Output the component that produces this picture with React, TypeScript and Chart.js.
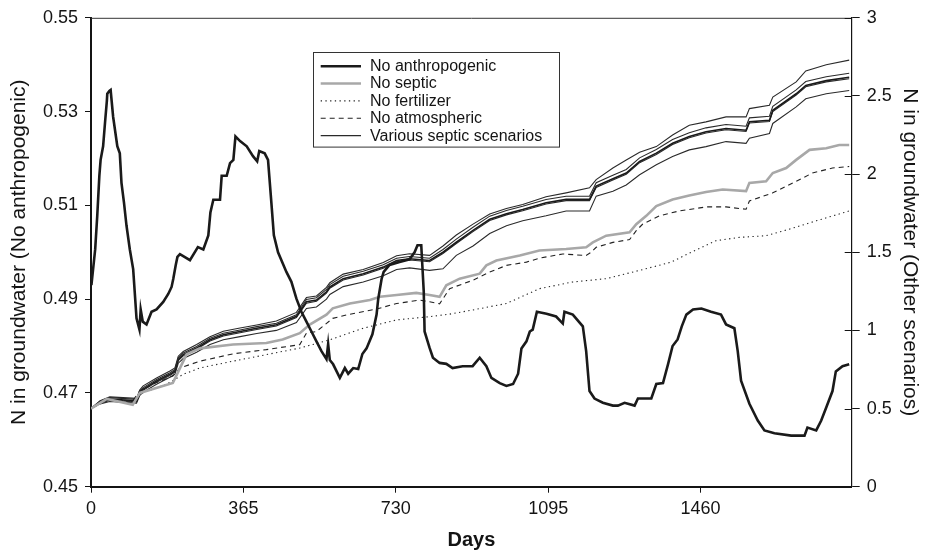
import React, { useEffect, useRef } from 'react';
import { Chart, registerables } from 'chart.js';

Chart.register(...registerables);

// ---------- tick labels ----------
const xTickValues = [0, 365, 730, 1095, 1460];
const leftTickValues = [0.45, 0.47, 0.49, 0.51, 0.53, 0.55];
const rightTickValues = [0, 0.5, 1, 1.5, 2, 2.5, 3];

const legendLabels = ['No anthropogenic', 'No septic', 'No fertilizer', 'No atmospheric', 'Various septic scenarios'];

// ---------- No anthropogenic (left axis) ----------
const anthroDays = [1, 10, 15, 20, 23, 29, 34, 38, 39, 44, 47, 53, 63, 69, 73, 79, 85, 93, 101, 109, 116, 119, 124, 133, 145, 157, 173, 185, 193, 197, 203, 207, 213, 237, 256, 269, 281, 286, 293, 309, 313, 325, 333, 341, 346, 357, 373, 388, 398, 403, 416, 424, 432, 438, 448, 468, 480, 492, 504, 516, 528, 540, 552, 564, 568, 572, 580, 596, 608, 616, 628, 640, 650, 660, 674, 684, 688, 696, 701, 715, 739, 763, 775, 782, 791, 797, 799, 811, 819, 835, 851, 866, 890, 914, 931, 947, 959, 979, 995, 1011, 1023, 1031, 1043, 1051, 1058, 1068, 1091, 1114, 1130, 1134, 1154, 1178, 1186, 1194, 1206, 1226, 1250, 1262, 1278, 1302, 1310, 1342, 1354, 1370, 1382, 1393, 1405, 1415, 1426, 1442, 1462, 1485, 1509, 1521, 1541, 1549, 1557, 1577, 1597, 1613, 1637, 1677, 1709, 1716, 1737, 1749, 1761, 1776, 1784, 1800, 1816];
const anthroValues = [0.4930, 0.5006, 0.5078, 0.5163, 0.5197, 0.5226, 0.5281, 0.5323, 0.5338, 0.5344, 0.5346, 0.5289, 0.5226, 0.5211, 0.5148, 0.5106, 0.5057, 0.5006, 0.4964, 0.4859, 0.4835, 0.4878, 0.4852, 0.4846, 0.4873, 0.4878, 0.4894, 0.4911, 0.4926, 0.4943, 0.4973, 0.4990, 0.4996, 0.4983, 0.5011, 0.5006, 0.5036, 0.5085, 0.5112, 0.5112, 0.5163, 0.5163, 0.5190, 0.5197, 0.5247, 0.5237, 0.5226, 0.5205, 0.5194, 0.5216, 0.5211, 0.5197, 0.5106, 0.5036, 0.5000, 0.4958, 0.4937, 0.4901, 0.4873, 0.4852, 0.4831, 0.4810, 0.4789, 0.4772, 0.4804, 0.4770, 0.4761, 0.4732, 0.4753, 0.4741, 0.4753, 0.4751, 0.4783, 0.4795, 0.4825, 0.4867, 0.4901, 0.4943, 0.4958, 0.4973, 0.4979, 0.4985, 0.5000, 0.5015, 0.5015, 0.4916, 0.4831, 0.4796, 0.4775, 0.4764, 0.4762, 0.4753, 0.4757, 0.4757, 0.4775, 0.4757, 0.4732, 0.4721, 0.4715, 0.4719, 0.4741, 0.4795, 0.4810, 0.4831, 0.4835, 0.4873, 0.4869, 0.4863, 0.4848, 0.4873, 0.4867, 0.4842, 0.4789, 0.4704, 0.4688, 0.4679, 0.4673, 0.4673, 0.4679, 0.4673, 0.4688, 0.4688, 0.4719, 0.4721, 0.4761, 0.4800, 0.4814, 0.4842, 0.4867, 0.4878, 0.4880, 0.4873, 0.4867, 0.4846, 0.4838, 0.4789, 0.4726, 0.4677, 0.4641, 0.4620, 0.4614, 0.4609, 0.4609, 0.4626, 0.4620, 0.4641, 0.4669, 0.4704, 0.4746, 0.4757, 0.4761];

// ---------- No septic (right axis) ----------
const noSepticDays = [0, 38, 100, 117, 196, 229, 261, 340, 420, 459, 500, 524, 564, 579, 620, 668, 692, 732, 779, 811, 835, 851, 883, 931, 947, 971, 1027, 1074, 1138, 1186, 1202, 1234, 1290, 1306, 1330, 1354, 1393, 1433, 1473, 1513, 1569, 1577, 1617, 1633, 1665, 1689, 1721, 1761, 1792, 1816];
const noSepticValues = [0.50, 0.562, 0.524, 0.600, 0.664, 0.847, 0.885, 0.910, 0.919, 0.942, 0.982, 1.037, 1.101, 1.141, 1.172, 1.194, 1.215, 1.226, 1.240, 1.226, 1.215, 1.289, 1.331, 1.363, 1.416, 1.447, 1.479, 1.511, 1.521, 1.532, 1.563, 1.606, 1.627, 1.679, 1.733, 1.796, 1.838, 1.863, 1.885, 1.901, 1.891, 1.944, 1.954, 2.007, 2.039, 2.091, 2.155, 2.165, 2.186, 2.186];

// ---------- No fertilizer ----------
const noFertDays = [0, 38, 100, 125, 181, 221, 261, 340, 420, 500, 572, 652, 732, 811, 859, 915, 995, 1074, 1154, 1234, 1314, 1390, 1429, 1497, 1553, 1617, 1673, 1737, 1816];
const noFertValues = [0.50, 0.555, 0.545, 0.602, 0.655, 0.719, 0.760, 0.803, 0.845, 0.887, 0.940, 1.014, 1.067, 1.088, 1.104, 1.131, 1.172, 1.267, 1.310, 1.331, 1.384, 1.437, 1.489, 1.574, 1.595, 1.606, 1.648, 1.701, 1.764];

// ---------- No atmospheric ----------
const noAtmoDays = [0, 38, 100, 117, 157, 196, 213, 261, 340, 420, 500, 516, 540, 579, 612, 684, 732, 787, 811, 835, 859, 915, 955, 995, 1043, 1074, 1130, 1186, 1198, 1210, 1250, 1290, 1306, 1321, 1361, 1409, 1473, 1521, 1569, 1577, 1633, 1689, 1728, 1776, 1816];
const noAtmoValues = [0.50, 0.56, 0.55, 0.613, 0.666, 0.708, 0.760, 0.803, 0.850, 0.877, 0.909, 0.982, 0.993, 1.077, 1.099, 1.137, 1.172, 1.194, 1.183, 1.170, 1.267, 1.321, 1.373, 1.416, 1.437, 1.462, 1.489, 1.479, 1.500, 1.532, 1.563, 1.581, 1.638, 1.679, 1.733, 1.764, 1.790, 1.790, 1.775, 1.828, 1.880, 1.954, 2.007, 2.039, 2.049];

// ---------- Various septic scenarios ----------
const septicDays = [0, 22, 45, 109, 117, 125, 157, 189, 201, 209, 221, 253, 285, 317, 357, 397, 444, 492, 516, 540, 564, 572, 604, 652, 700, 732, 763, 811, 843, 875, 915, 955, 995, 1034, 1090, 1138, 1194, 1210, 1250, 1282, 1314, 1354, 1393, 1433, 1473, 1521, 1569, 1577, 1625, 1633, 1689, 1712, 1761, 1816];
const septicAValues = [0.500, 0.550, 0.575, 0.565, 0.620, 0.645, 0.695, 0.740, 0.760, 0.835, 0.865, 0.910, 0.960, 0.995, 1.015, 1.035, 1.060, 1.115, 1.210, 1.220, 1.275, 1.305, 1.360, 1.390, 1.435, 1.478, 1.490, 1.480, 1.540, 1.610, 1.680, 1.745, 1.780, 1.805, 1.855, 1.880, 1.912, 1.965, 2.039, 2.090, 2.140, 2.176, 2.250, 2.313, 2.334, 2.366, 2.366, 2.419, 2.440, 2.493, 2.590, 2.660, 2.700, 2.729];
const septicBValues = [0.500, 0.548, 0.570, 0.559, 0.612, 0.634, 0.686, 0.729, 0.750, 0.824, 0.855, 0.897, 0.950, 0.982, 1.003, 1.024, 1.046, 1.100, 1.198, 1.209, 1.262, 1.293, 1.346, 1.378, 1.420, 1.462, 1.473, 1.462, 1.518, 1.584, 1.660, 1.731, 1.767, 1.794, 1.837, 1.858, 1.858, 1.945, 1.993, 2.030, 2.104, 2.158, 2.221, 2.265, 2.296, 2.317, 2.306, 2.360, 2.370, 2.433, 2.539, 2.592, 2.623, 2.645];
const septicCValues = [0.500, 0.539, 0.560, 0.549, 0.602, 0.624, 0.676, 0.719, 0.740, 0.814, 0.845, 0.887, 0.940, 0.972, 0.993, 1.014, 1.036, 1.090, 1.183, 1.194, 1.247, 1.278, 1.331, 1.363, 1.405, 1.447, 1.458, 1.447, 1.500, 1.564, 1.640, 1.711, 1.747, 1.774, 1.817, 1.838, 1.838, 1.923, 1.970, 2.007, 2.081, 2.134, 2.197, 2.240, 2.271, 2.292, 2.281, 2.335, 2.345, 2.408, 2.514, 2.567, 2.598, 2.620];
const septicDValues = [0.500, 0.533, 0.553, 0.542, 0.595, 0.617, 0.669, 0.712, 0.733, 0.806, 0.837, 0.879, 0.932, 0.964, 0.985, 1.006, 1.028, 1.082, 1.174, 1.186, 1.239, 1.270, 1.323, 1.355, 1.397, 1.439, 1.450, 1.439, 1.492, 1.556, 1.632, 1.703, 1.739, 1.766, 1.809, 1.830, 1.830, 1.915, 1.962, 1.999, 2.073, 2.126, 2.189, 2.232, 2.263, 2.284, 2.273, 2.327, 2.337, 2.400, 2.506, 2.559, 2.590, 2.610];
const septicEValues = [0.500, 0.530, 0.545, 0.535, 0.585, 0.605, 0.655, 0.700, 0.720, 0.790, 0.820, 0.860, 0.910, 0.940, 0.960, 0.980, 1.000, 1.050, 1.140, 1.150, 1.200, 1.230, 1.280, 1.310, 1.350, 1.390, 1.400, 1.384, 1.394, 1.480, 1.540, 1.620, 1.670, 1.701, 1.733, 1.764, 1.764, 1.859, 1.890, 1.930, 1.996, 2.060, 2.113, 2.155, 2.176, 2.208, 2.197, 2.230, 2.260, 2.324, 2.430, 2.482, 2.514, 2.535];

const FONT = '"Liberation Sans", Arial, Helvetica, sans-serif';
const INK = '#141414';

const pts = (d: number[], v: number[]) => d.map((x, i) => ({ x, y: v[i] }));

const framePlugin = {
  id: 'frameAndLegend',
  afterDraw(chart: any) {
    const { ctx, chartArea } = chart;
    const { left, right, top } = chartArea;
    ctx.save();
    // top frame line
    ctx.strokeStyle = '#333';
    ctx.lineWidth = 1;
    ctx.setLineDash([]);
    ctx.beginPath();
    ctx.moveTo(left, top + 0.5);
    ctx.lineTo(right, top + 0.5);
    ctx.stroke();
    // inner part of the crossing ticks on the right axis
    const yR = chart.scales.yR;
    ctx.strokeStyle = INK;
    ctx.beginPath();
    yR.ticks.forEach((t: any) => {
      const py = Math.round(yR.getPixelForValue(t.value)) + 0.5;
      ctx.moveTo(right - 7, py);
      ctx.lineTo(right, py);
    });
    ctx.stroke();

    // legend box
    const bx = left + 222.3;
    const by = top + 34.4;
    const bw = 246;
    const bh = 94.6;
    ctx.fillStyle = '#fff';
    ctx.fillRect(bx, by, bw, bh);
    ctx.strokeStyle = '#333';
    ctx.lineWidth = 1;
    ctx.strokeRect(Math.round(bx) + 0.5, Math.round(by) + 0.5, bw, bh);
    ctx.font = `16px ${FONT}`;
    ctx.textBaseline = 'middle';
    ctx.textAlign = 'left';
    legendLabels.forEach((lab, i) => {
      const ds = chart.data.datasets[i];
      const ry = by + 14 + i * 17.35;
      ctx.strokeStyle = ds.borderColor;
      ctx.lineWidth = ds.borderWidth;
      ctx.setLineDash(ds.borderDash || []);
      ctx.beginPath();
      ctx.moveTo(bx + 7.4, ry);
      ctx.lineTo(bx + 47.7, ry);
      ctx.stroke();
      ctx.setLineDash([]);
      ctx.fillStyle = INK;
      ctx.fillText(lab, bx + 56.7, ry + 0.5);
    });
    ctx.restore();
  },
};

export default function App() {
  const ref = useRef<HTMLCanvasElement | null>(null);

  useEffect(() => {
    if (!ref.current) return;
    Chart.defaults.font.family = FONT;
    Chart.defaults.color = INK;

    const thin = { pointRadius: 0, tension: 0, fill: false, yAxisID: 'yR' };
    const chart = new Chart(ref.current, {
      type: 'line',
      data: {
        datasets: [
          { label: legendLabels[0], data: pts(anthroDays, anthroValues), yAxisID: 'yL', borderColor: '#1a1a1a', borderWidth: 2.6, pointRadius: 0, tension: 0, fill: false },
          { label: legendLabels[1], data: pts(noSepticDays, noSepticValues), ...thin, borderColor: '#a8a8a8', borderWidth: 2.6 },
          { label: legendLabels[2], data: pts(noFertDays, noFertValues), ...thin, borderColor: '#222', borderWidth: 1.1, borderDash: [1.3, 3.4] },
          { label: legendLabels[3], data: pts(noAtmoDays, noAtmoValues), ...thin, borderColor: '#222', borderWidth: 1.1, borderDash: [5, 4] },
          { label: legendLabels[4], data: pts(septicDays, septicAValues), ...thin, borderColor: '#2a2a2a', borderWidth: 1.1 },
          { label: legendLabels[4] + ' B', data: pts(septicDays, septicBValues), ...thin, borderColor: '#2a2a2a', borderWidth: 1.1 },
          { label: legendLabels[4] + ' C', data: pts(septicDays, septicCValues), ...thin, borderColor: '#1a1a1a', borderWidth: 1.6 },
          { label: legendLabels[4] + ' D', data: pts(septicDays, septicDValues), ...thin, borderColor: '#2a2a2a', borderWidth: 1.1 },
          { label: legendLabels[4] + ' E', data: pts(septicDays, septicEValues), ...thin, borderColor: '#2a2a2a', borderWidth: 1.1 },
        ] as any,
      },
      options: {
        responsive: false,
        animation: false,
        devicePixelRatio: 1,
        layout: { padding: { top: 13.3, left: 0, right: 0, bottom: 0 } },
        plugins: { legend: { display: false }, tooltip: { enabled: false } },
        scales: {
          x: {
            type: 'linear',
            position: 'bottom',
            min: 0,
            max: 1822,
            afterBuildTicks: (s: any) => { s.ticks = xTickValues.map((v) => ({ value: v })); },
            afterFit: (s: any) => { s.height = 66.3; },
            ticks: { font: { size: 18 }, color: INK, padding: 6, autoSkip: false, maxRotation: 0, callback: (v: any) => String(v) },
            grid: { drawOnChartArea: false, drawTicks: true, tickLength: 6, color: INK, lineWidth: 1 },
            border: { display: true, width: 2, color: INK },
            title: { display: true, text: 'Days', font: { size: 20, weight: 'bold' }, color: INK, padding: { top: 0, bottom: 1 } },
          },
          yL: {
            type: 'linear',
            position: 'left',
            min: 0.45,
            max: 0.55,
            afterBuildTicks: (s: any) => { s.ticks = leftTickValues.map((v) => ({ value: v })); },
            afterFit: (s: any) => { s.width = 91; },
            ticks: { font: { size: 18 }, color: INK, padding: 7, callback: (v: any) => Number(v).toFixed(2) },
            grid: { drawOnChartArea: false, drawTicks: true, tickLength: 6, color: INK, lineWidth: 1 },
            border: { display: true, width: 2, color: INK },
            title: { display: true, text: 'N in groundwater (No anthropogenic)', font: { size: 21 }, color: INK, padding: { top: 6.4, bottom: 0 } },
          },
          yR: {
            type: 'linear',
            position: 'right',
            min: 0,
            max: 3,
            afterBuildTicks: (s: any) => { s.ticks = rightTickValues.map((v) => ({ value: v })); },
            afterFit: (s: any) => { s.width = 73.3; },
            ticks: { font: { size: 18 }, color: INK, padding: 7, callback: (v: any) => String(v) },
            grid: { drawOnChartArea: false, drawTicks: true, tickLength: 8, color: INK, lineWidth: 1 },
            border: { display: true, width: 1.2, color: INK },
            title: { display: true, text: 'N in groundwater (Other scenarios)', font: { size: 21 }, color: INK, padding: { top: 2.4, bottom: 0 } },
          },
        },
      } as any,
      plugins: [framePlugin],
    });
    return () => chart.destroy();
  }, []);

  return (
    <div style={{ position: 'fixed', left: 0, top: 0, width: 925, height: 553, background: '#fff' }}>
      <canvas ref={ref} width={925} height={553} style={{ display: 'block', width: 925, height: 553 }} />
    </div>
  );
}
